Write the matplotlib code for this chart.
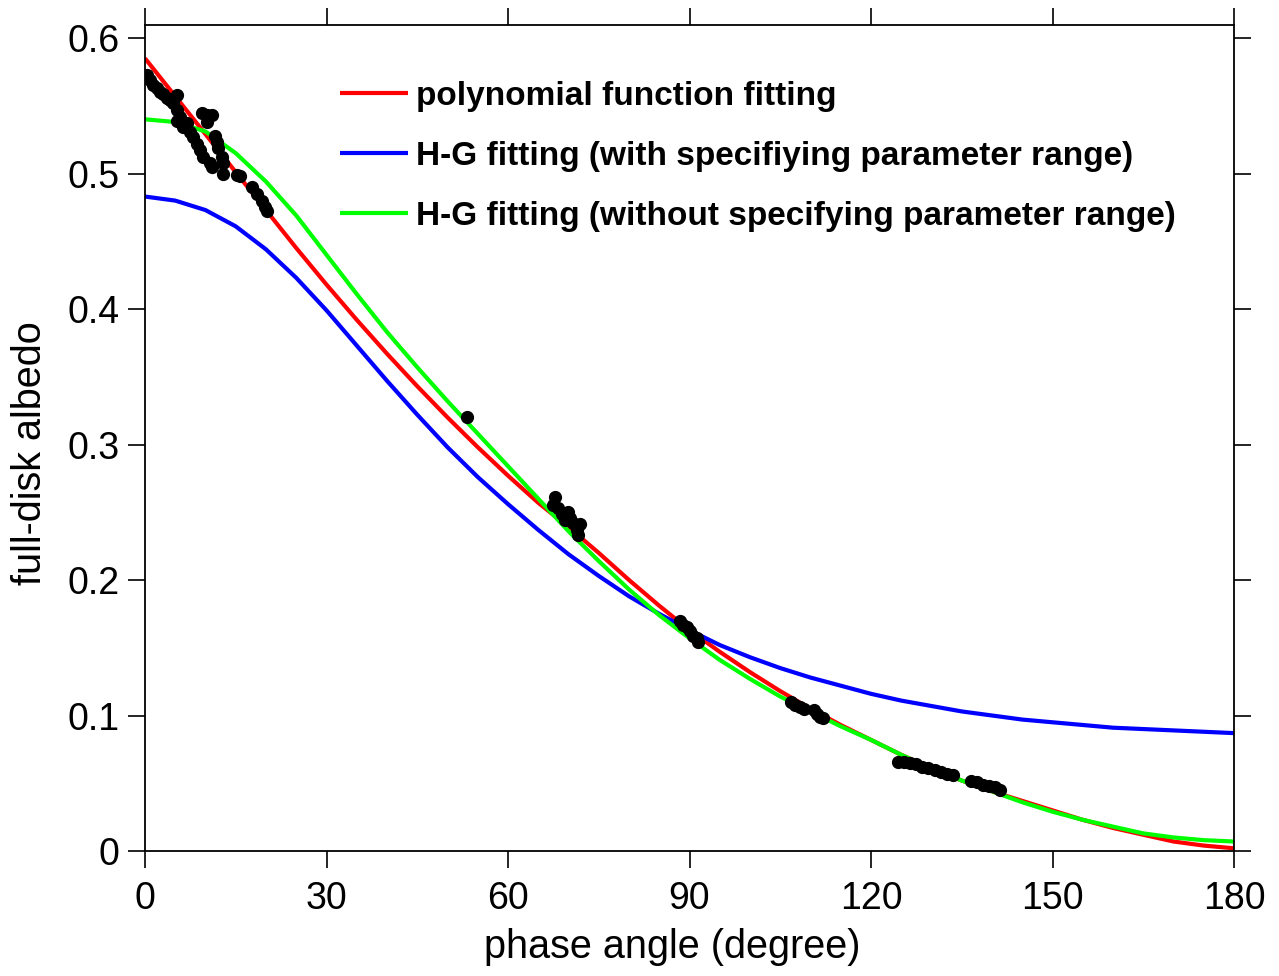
import matplotlib
matplotlib.use("Agg")
import matplotlib.pyplot as plt

plt.rcParams['font.family'] = ['Liberation Sans', 'DejaVu Sans']

# ---- data ----
curve_deg = [0, 5, 10, 15, 20, 25, 30, 35, 40, 45, 50, 55, 60, 65, 70, 75, 80, 85,
             90, 95, 100, 105, 110, 115, 120, 125, 130, 135, 140, 145, 150, 155,
             160, 165, 170, 175, 180]
poly_fit = [0.585, 0.557, 0.529, 0.501, 0.473, 0.445, 0.418, 0.392, 0.367, 0.343,
            0.320, 0.298, 0.277, 0.257, 0.239, 0.220, 0.200, 0.181, 0.163, 0.147,
            0.132, 0.118, 0.105, 0.093, 0.082, 0.071, 0.061, 0.052, 0.044, 0.037,
            0.030, 0.023, 0.017, 0.012, 0.007, 0.004, 0.002]
hg_range = [0.483, 0.480, 0.473, 0.461, 0.444, 0.423, 0.399, 0.373, 0.347, 0.322,
            0.298, 0.276, 0.256, 0.237, 0.219, 0.203, 0.188, 0.175, 0.163, 0.152,
            0.143, 0.135, 0.128, 0.122, 0.116, 0.111, 0.107, 0.103, 0.100, 0.097,
            0.095, 0.093, 0.091, 0.090, 0.089, 0.088, 0.087]
hg_free = [0.540, 0.538, 0.531, 0.515, 0.494, 0.469, 0.440, 0.411, 0.383, 0.357,
           0.332, 0.308, 0.284, 0.260, 0.236, 0.214, 0.193, 0.174, 0.157, 0.141,
           0.127, 0.114, 0.103, 0.092, 0.082, 0.071, 0.061, 0.052, 0.044, 0.036,
           0.029, 0.023, 0.018, 0.013, 0.010, 0.008, 0.007]

obs_deg = [0.3, 0.8, 1.4, 2.0, 2.5, 3.0, 3.6, 4.1, 4.7, 5.3, 5.3, 5.3, 5.8, 6.3, 6.9,
           7.4, 8.0, 8.6, 9.1, 9.4, 9.6, 10.2, 10.2, 10.7, 11.1, 11.1, 11.6, 11.9,
           12.1, 12.7, 12.9, 12.9, 15.2, 15.7, 17.7, 18.5, 19.3, 19.8, 20.2,
           53.2,
           67.5, 67.8, 68.3, 68.9, 69.4, 69.9, 70.2, 70.8, 71.4, 71.6, 71.9,
           88.4, 89.0, 89.6, 90.1, 90.6, 91.2, 91.4,
           106.8, 107.5, 108.3, 109.0, 110.5, 111.0, 111.5, 112.0,
           124.5, 125.5, 126.5, 127.5, 128.5, 129.5, 130.5, 131.5, 132.5, 133.5,
           136.5, 137.5, 138.5, 139.5, 140.5, 141.3]
obs_albedo = [0.573, 0.569, 0.565, 0.563, 0.560, 0.559, 0.556, 0.554, 0.552, 0.558,
              0.547, 0.539, 0.542, 0.534, 0.537, 0.531, 0.527, 0.522, 0.517, 0.545,
              0.512, 0.543, 0.538, 0.508, 0.543, 0.505, 0.528, 0.523, 0.519, 0.512,
              0.508, 0.500, 0.499, 0.498, 0.490, 0.485, 0.480, 0.475, 0.472,
              0.320,
              0.255, 0.261, 0.253, 0.249, 0.244, 0.250, 0.246, 0.242, 0.237, 0.233, 0.241,
              0.170, 0.167, 0.165, 0.162, 0.159, 0.157, 0.154,
              0.110, 0.108, 0.106, 0.105, 0.104, 0.101, 0.099, 0.098,
              0.066, 0.066, 0.065, 0.064, 0.062, 0.061, 0.060, 0.058, 0.057, 0.056,
              0.052, 0.051, 0.049, 0.048, 0.047, 0.045]

labels = ["polynomial function fitting",
          "H-G fitting (with specifiying parameter range)",
          "H-G fitting (without specifying parameter range)"]
colors = ["#ff0000", "#0000ff", "#00ff00"]
x_ticks = [0, 30, 60, 90, 120, 150, 180]
y_ticks = [0, 0.1, 0.2, 0.3, 0.4, 0.5, 0.6]
y_ticklabels = ["0", "0.1", "0.2", "0.3", "0.4", "0.5", "0.6"]

# ---- figure ----
fig = plt.figure(figsize=(12.79, 9.76), dpi=100)
ax = fig.add_axes([145/1279, 125/976, 1089/1279, 826/976])

series = [poly_fit, hg_range, hg_free]
ax.plot(obs_deg, obs_albedo, 'o', color='black', markersize=8.5, zorder=3)
for vals, c in zip(series, colors):
    ax.plot(curve_deg, vals, color=c, lw=3, zorder=2, solid_capstyle='butt',
            solid_joinstyle='round')

ax.set_xlim(0, 180)
ax.set_ylim(0, 0.6096)
ax.set_xticks(x_ticks)
ax.set_yticks(y_ticks)
ax.set_yticklabels(y_ticklabels)
ax.tick_params(direction='out', length=12.5, width=1.2, labelsize=27,
               top=True, right=True)
ax.tick_params(axis='x', pad=9)
ax.tick_params(axis='y', pad=6)
for s in ax.spines.values():
    s.set_linewidth(1.3)

ax.set_xlabel("phase angle (degree)", fontsize=28.5, va='center')
ax.xaxis.set_label_coords((672 - 145) / 1089, (851 - 947) / 826)
ax.set_ylabel("full-disk albedo", fontsize=28.5, va='center')
ax.yaxis.set_label_coords((30 - 145) / 1089, (851 - 453) / 826)

# legend drawn manually
ys = [0.9177, 0.845, 0.7724]
for yy, lab, c in zip(ys, labels, colors):
    ax.plot([0.179, 0.2415], [yy, yy], color=c, lw=3, transform=ax.transAxes,
            solid_capstyle='butt')
    ax.text(0.249, yy - 0.004, lab, transform=ax.transAxes, fontsize=24,
            fontweight='bold', va='center', ha='left')

fig.savefig("out.png", dpi=100)
